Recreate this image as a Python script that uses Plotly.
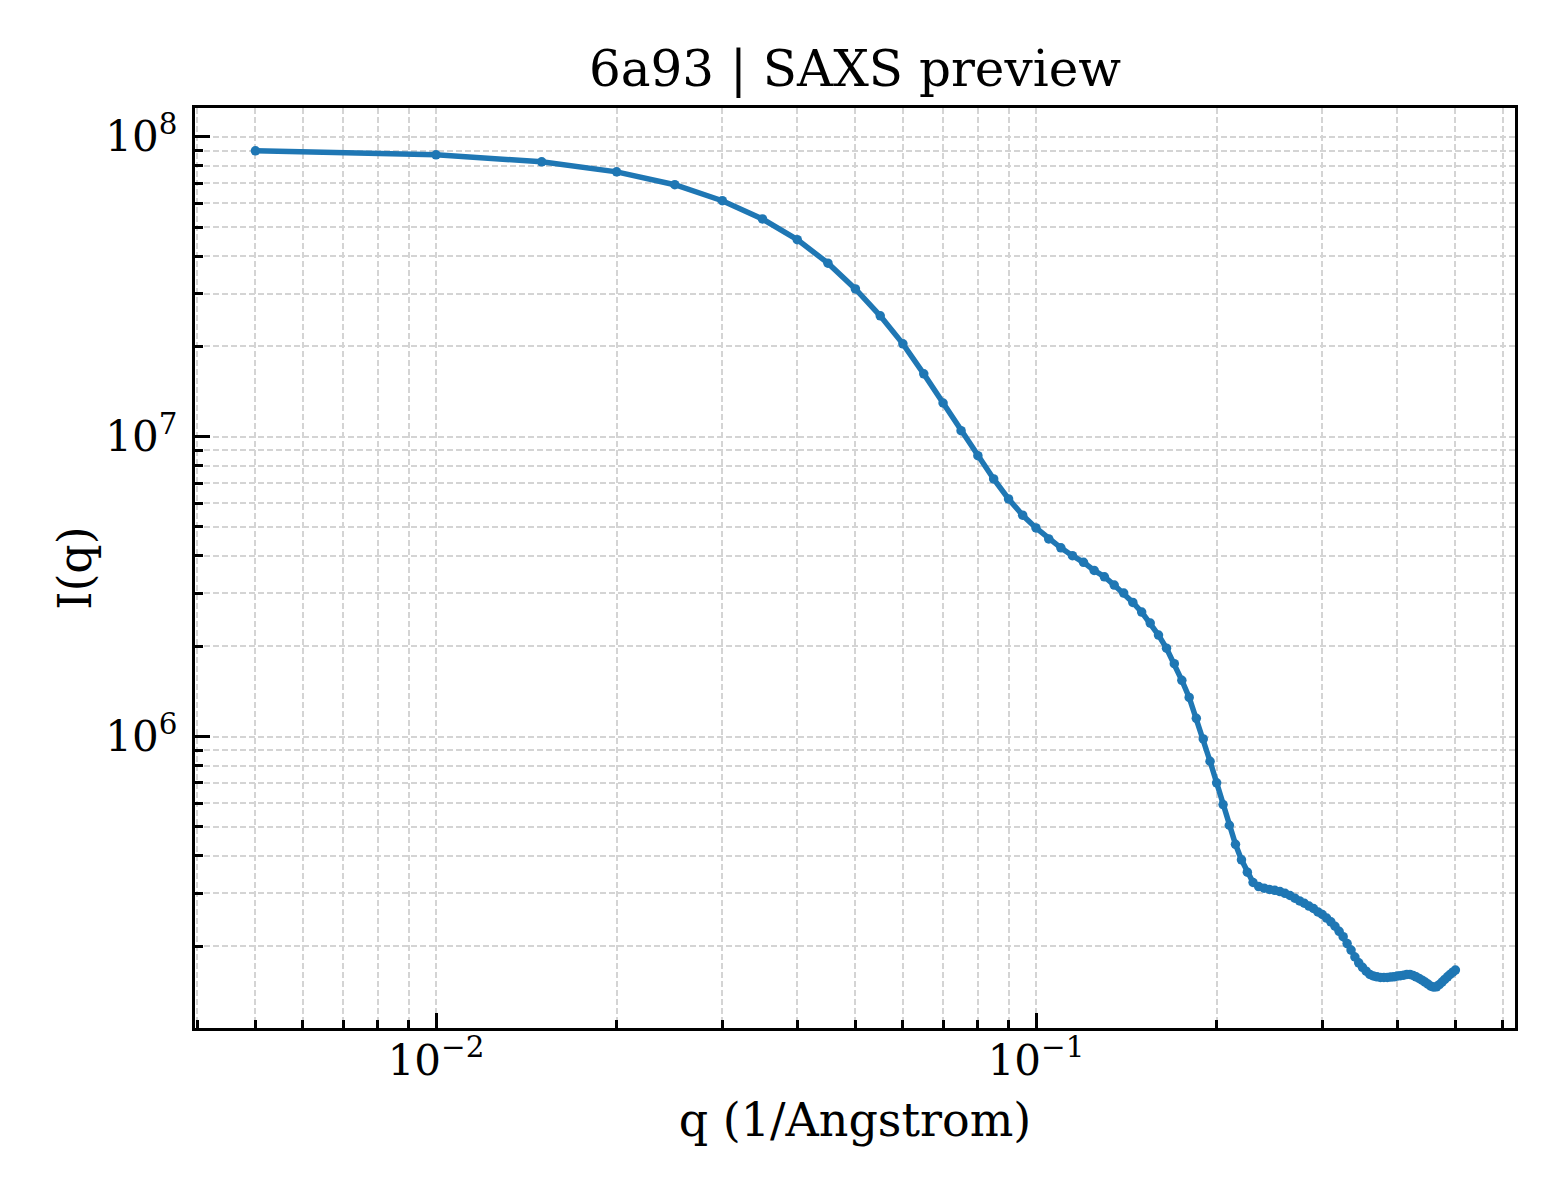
import plotly.graph_objects as go

# q (1/Angstrom) and I(q)
q = [0.005, 0.010, 0.015, 0.020, 0.025, 0.030, 0.035, 0.040, 0.045, 0.050,
     0.055, 0.060, 0.065, 0.070, 0.075, 0.080, 0.085, 0.090, 0.095, 0.100,
     0.105, 0.110, 0.115, 0.120, 0.125, 0.130, 0.135, 0.140, 0.145, 0.150,
     0.155, 0.160, 0.165, 0.170, 0.175, 0.180, 0.185, 0.190, 0.195, 0.200,
     0.205, 0.210, 0.215, 0.220, 0.225, 0.230, 0.235, 0.240, 0.245, 0.250,
     0.255, 0.260, 0.265, 0.270, 0.275, 0.280, 0.285, 0.290, 0.295, 0.300,
     0.305, 0.310, 0.315, 0.320, 0.325, 0.330, 0.335, 0.340, 0.345, 0.350,
     0.355, 0.360, 0.365, 0.370, 0.375, 0.380, 0.385, 0.390, 0.395, 0.400,
     0.405, 0.410, 0.415, 0.420, 0.425, 0.430, 0.435, 0.440, 0.445, 0.450,
     0.455, 0.460, 0.465, 0.470, 0.475, 0.480, 0.485, 0.490, 0.495, 0.500]

intensity = [8.98e7, 8.71e7, 8.25e7, 7.64e7, 6.92e7, 6.12e7, 5.32e7, 4.54e7, 3.79e7, 3.11e7,
             2.53e7, 2.04e7, 1.62e7, 1.295e7, 1.047e7, 8.64e6, 7.23e6, 6.20e6, 5.47e6, 4.96e6,
             4.56e6, 4.26e6, 4.01e6, 3.81e6, 3.58e6, 3.41e6, 3.20e6, 3.01e6, 2.80e6, 2.60e6,
             2.39e6, 2.18e6, 1.97e6, 1.75e6, 1.54e6, 1.35e6, 1.15e6, 9.82e5, 8.27e5, 7.01e5,
             5.93e5, 5.06e5, 4.37e5, 3.88e5, 3.53e5, 3.26e5, 3.16e5, 3.12e5, 3.09e5, 3.07e5,
             3.04e5, 3.00e5, 2.95e5, 2.89e5, 2.83e5, 2.78e5, 2.72e5, 2.67e5, 2.60e5, 2.55e5,
             2.48e5, 2.41e5, 2.33e5, 2.24e5, 2.15e5, 2.04e5, 1.94e5, 1.84e5, 1.76e5, 1.70e5,
             1.65e5, 1.61e5, 1.59e5, 1.58e5, 1.573e5, 1.573e5, 1.573e5, 1.577e5, 1.58e5, 1.589e5,
             1.594e5, 1.60e5, 1.61e5, 1.61e5, 1.597e5, 1.58e5, 1.561e5, 1.54e5, 1.517e5, 1.494e5,
             1.471e5, 1.46e5, 1.463e5, 1.487e5, 1.517e5, 1.549e5, 1.58e5, 1.61e5, 1.638e5, 1.664e5]

x_ticks = [0.01, 0.1]
x_ticktext = ["10<sup>\u22122</sup>", "10<sup>\u22121</sup>"]
y_ticks = [1e6, 1e7, 1e8]
y_ticktext = ["10<sup>6</sup>", "10<sup>7</sup>", "10<sup>8</sup>"]

# minor tick / grid positions (2..9 within each decade)
x_minor = [m * d for d in (0.001, 0.01, 0.1) for m in range(2, 10) if 0.0039 < m * d < 0.63]
y_minor = [m * d for d in (1e5, 1e6, 1e7) for m in range(2, 10) if 1.05e5 < m * d < 1.25e8]

FONT = "DejaVu Serif"
GRID = "#d4d4d4"

fig = go.Figure()
fig.add_trace(go.Scatter(
    x=q, y=intensity, mode="lines+markers",
    line=dict(color="#1f77b4", width=5.5),
    marker=dict(color="#1f77b4", size=9.5),
    showlegend=False,
))

axis_common = dict(
    type="log",
    showline=True, linecolor="black", linewidth=3.3, mirror=True,
    ticks="inside", ticklen=15, tickwidth=3.3, tickcolor="black",
    showgrid=True, gridcolor=GRID, gridwidth=1.5, griddash="6px,3px",
    tickfont=dict(family=FONT, size=42, color="black"),
    tickmode="array",
    zeroline=False,
)

fig.update_xaxes(
    **axis_common,
    range=[-2.4017, -0.2017],
    tickvals=x_ticks, ticktext=x_ticktext,
    ticklabelstandoff=-7,
    minor=dict(tickmode="array", tickvals=x_minor, ticks="inside", ticklen=8,
               tickwidth=2.5, tickcolor="black", showgrid=True,
               gridcolor=GRID, gridwidth=1.5, griddash="6px,3px"),
    title=dict(text="q (1/Angstrom)", font=dict(family=FONT, size=46, color="black"),
               standoff=21),
)

fig.update_yaxes(
    **axis_common,
    range=[5.028, 8.096],
    tickvals=y_ticks, ticktext=y_ticktext,
    ticklabelstandoff=6,
    minor=dict(tickmode="array", tickvals=y_minor, ticks="inside", ticklen=8,
               tickwidth=2.5, tickcolor="black", showgrid=True,
               gridcolor=GRID, gridwidth=1.5, griddash="6px,3px"),
    title=dict(text="I(q)", font=dict(family=FONT, size=46, color="black"),
               standoff=0),
)

fig.update_layout(
    width=1560, height=1200,
    paper_bgcolor="white", plot_bgcolor="white",
    margin=dict(l=187, r=53, t=100, b=180, autoexpand=False),
    title=dict(text="6a93 | SAXS preview", x=0.5, xref="paper", xanchor="center",
               y=1 - 60 / 1200, yanchor="middle",
               font=dict(family=FONT, size=50, color="black")),
)

fig.write_html("out.html")
